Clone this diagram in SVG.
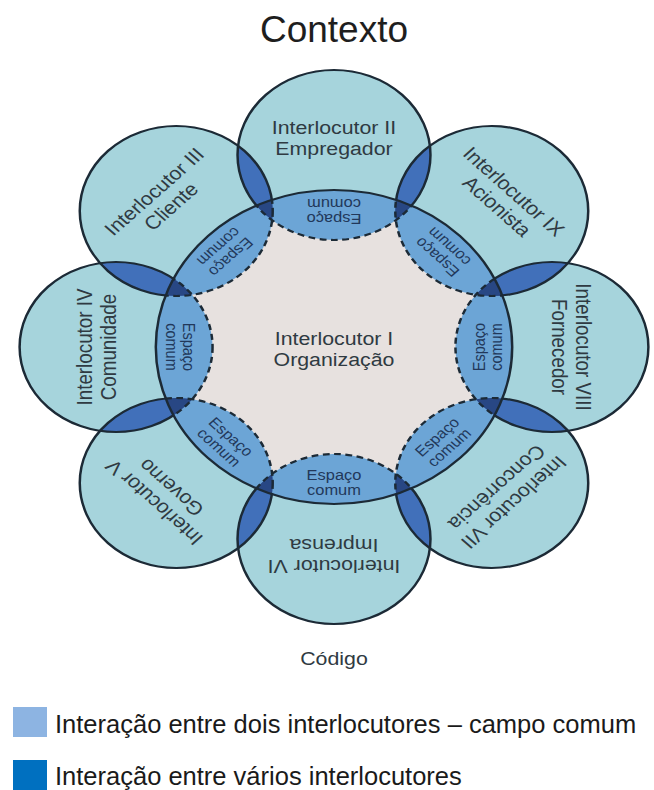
<svg xmlns="http://www.w3.org/2000/svg" xmlns:xlink="http://www.w3.org/1999/xlink" width="654" height="790" viewBox="0 0 654 790">
  <style>
    .outer { fill: #a6d4dc; }
    .core { fill: #e7e1df; }
    .common { fill: #6ca5d6; }
    .pair { fill: #4170ba; }
    .triple { fill: #284784; }
    .edge { fill: none; stroke: #1c2a36; stroke-width: 2.2; }
    .dash { stroke-dasharray: 6 4; }
    .lbl { font-family: "Liberation Sans", Arial, sans-serif; font-size: 18.8px; fill: #2f3a42; text-anchor: middle; }
    .esp { font-family: "Liberation Sans", Arial, sans-serif; font-size: 14.5px; fill: #22385a; text-anchor: middle; }
    .title { font-family: "Liberation Sans", Arial, sans-serif; font-size: 37px; fill: #1e1e1e; text-anchor: middle; }
    .legend { font-family: "Liberation Sans", Arial, sans-serif; font-size: 25.5px; fill: #1a1a1a; }
  </style>
  <defs>
    <!-- circle geometry, drawn in an unstretched frame centred on the organisation -->
    <circle id="c1" cx="0" cy="0" r="157"/>
    <circle id="c2" cx="0" cy="-192" r="85"/>
    <circle id="c9" cx="139" cy="-136" r="85"/>
    <circle id="c8" cx="192" cy="0" r="85"/>
    <circle id="c7" cx="139" cy="136" r="85"/>
    <circle id="c6" cx="0" cy="192" r="85"/>
    <circle id="c5" cx="-139" cy="136" r="85"/>
    <circle id="c4" cx="-192" cy="0" r="85"/>
    <circle id="c3" cx="-139" cy="-136" r="85"/>
    <clipPath id="k1"><circle cx="0" cy="0" r="157"/></clipPath>
    <clipPath id="kOut"><path clip-rule="evenodd" d="M-400 -400H400V400H-400Z M-157 0a157 157 0 1 0 314 0a157 157 0 1 0 -314 0Z"/></clipPath>
    <clipPath id="k2"><circle cx="0" cy="-192" r="85"/></clipPath>
    <clipPath id="k9"><circle cx="139" cy="-136" r="85"/></clipPath>
    <clipPath id="k8"><circle cx="192" cy="0" r="85"/></clipPath>
    <clipPath id="k7"><circle cx="139" cy="136" r="85"/></clipPath>
    <clipPath id="k6"><circle cx="0" cy="192" r="85"/></clipPath>
    <clipPath id="k5"><circle cx="-139" cy="136" r="85"/></clipPath>
    <clipPath id="k4"><circle cx="-192" cy="0" r="85"/></clipPath>
    <clipPath id="k3"><circle cx="-139" cy="-136" r="85"/></clipPath>
  </defs>

  <rect width="654" height="790" fill="#ffffff"/>
  <text class="title" x="334" y="42">Contexto</text>

  <g id="diagram" transform="translate(334,347) scale(1.135,1)">
    <!-- base fills -->
    <g id="fills">
      <use xlink:href="#c2" class="outer"/>
      <use xlink:href="#c9" class="outer"/>
      <use xlink:href="#c8" class="outer"/>
      <use xlink:href="#c7" class="outer"/>
      <use xlink:href="#c6" class="outer"/>
      <use xlink:href="#c5" class="outer"/>
      <use xlink:href="#c4" class="outer"/>
      <use xlink:href="#c3" class="outer"/>
      <use xlink:href="#c1" class="core"/>
    </g>

    <!-- common space: each interlocutor overlapping the organisation -->
    <g id="common-spaces" clip-path="url(#k1)">
      <use xlink:href="#c2" class="common"/>
      <use xlink:href="#c9" class="common"/>
      <use xlink:href="#c8" class="common"/>
      <use xlink:href="#c7" class="common"/>
      <use xlink:href="#c6" class="common"/>
      <use xlink:href="#c5" class="common"/>
      <use xlink:href="#c4" class="common"/>
      <use xlink:href="#c3" class="common"/>
    </g>

    <!-- neighbouring interlocutors overlapping each other -->
    <g id="multi-overlaps">
      <g clip-path="url(#k9)"><use xlink:href="#c2" class="pair"/><use xlink:href="#c2" class="triple" clip-path="url(#k1)"/></g>
      <g clip-path="url(#k8)"><use xlink:href="#c9" class="pair"/><use xlink:href="#c9" class="triple" clip-path="url(#k1)"/></g>
      <g clip-path="url(#k7)"><use xlink:href="#c8" class="pair"/><use xlink:href="#c8" class="triple" clip-path="url(#k1)"/></g>
      <g clip-path="url(#k6)"><use xlink:href="#c7" class="pair"/><use xlink:href="#c7" class="triple" clip-path="url(#k1)"/></g>
      <g clip-path="url(#k5)"><use xlink:href="#c6" class="pair"/><use xlink:href="#c6" class="triple" clip-path="url(#k1)"/></g>
      <g clip-path="url(#k4)"><use xlink:href="#c5" class="pair"/><use xlink:href="#c5" class="triple" clip-path="url(#k1)"/></g>
      <g clip-path="url(#k3)"><use xlink:href="#c4" class="pair"/><use xlink:href="#c4" class="triple" clip-path="url(#k1)"/></g>
      <g clip-path="url(#k2)"><use xlink:href="#c3" class="pair"/><use xlink:href="#c3" class="triple" clip-path="url(#k1)"/></g>
    </g>

    <!-- outlines: solid outside the organisation, dashed inside it -->
    <g id="outlines">
      <g clip-path="url(#kOut)">
        <use xlink:href="#c2" class="edge"/>
        <use xlink:href="#c9" class="edge"/>
        <use xlink:href="#c8" class="edge"/>
        <use xlink:href="#c7" class="edge"/>
        <use xlink:href="#c6" class="edge"/>
        <use xlink:href="#c5" class="edge"/>
        <use xlink:href="#c4" class="edge"/>
        <use xlink:href="#c3" class="edge"/>
      </g>
      <g clip-path="url(#k1)">
        <use xlink:href="#c2" class="edge dash"/>
        <use xlink:href="#c9" class="edge dash"/>
        <use xlink:href="#c8" class="edge dash"/>
        <use xlink:href="#c7" class="edge dash"/>
        <use xlink:href="#c6" class="edge dash"/>
        <use xlink:href="#c5" class="edge dash"/>
        <use xlink:href="#c4" class="edge dash"/>
        <use xlink:href="#c3" class="edge dash"/>
      </g>
      <use xlink:href="#c1" class="edge"/>
    </g>

    <!-- interlocutor labels -->
    <g id="node-i">
      <text class="lbl" x="0" y="-2">Interlocutor I</text>
      <text class="lbl" x="0" y="19">Organização</text>
    </g>
    <g id="node-ii" transform="translate(0,-192)">
      <text class="lbl" x="0" y="-21">Interlocutor II</text>
      <text class="lbl" x="0" y="0">Empregador</text>
    </g>
    <g id="node-iii" transform="translate(-139,-136) rotate(-45)">
      <text class="lbl" x="0" y="-21">Interlocutor III</text>
      <text class="lbl" x="0" y="0">Cliente</text>
    </g>
    <g id="node-iv" transform="translate(-192,0) rotate(-90)">
      <text class="lbl" x="0" y="-21">Interlocutor IV</text>
      <text class="lbl" x="0" y="0">Comunidade</text>
    </g>
    <g id="node-v" transform="translate(-139,136) rotate(-135)">
      <text class="lbl" x="0" y="-21">Interlocutor V</text>
      <text class="lbl" x="0" y="0">Governo</text>
    </g>
    <g id="node-vi" transform="translate(0,192) rotate(180)">
      <text class="lbl" x="0" y="-21">Interlocutor VI</text>
      <text class="lbl" x="0" y="0">Imprensa</text>
    </g>
    <g id="node-vii" transform="translate(139,136) rotate(135)">
      <text class="lbl" x="0" y="-21">Interlocutor VII</text>
      <text class="lbl" x="0" y="0">Concorrência</text>
    </g>
    <g id="node-viii" transform="translate(192,0) rotate(90)">
      <text class="lbl" x="0" y="-21">Interlocutor VIII</text>
      <text class="lbl" x="0" y="0">Fornecedor</text>
    </g>
    <g id="node-ix" transform="translate(139,-136) rotate(45)">
      <text class="lbl" x="0" y="-21">Interlocutor IX</text>
      <text class="lbl" x="0" y="0">Acionista</text>
    </g>

    <!-- common-space labels -->
    <g id="common-labels">
      <g transform="translate(0,-134) rotate(180)"><text class="esp" y="-1">Espaço</text><text class="esp" y="14">comum</text></g>
      <g transform="translate(95,-94) rotate(-135)"><text class="esp" y="-1">Espaço</text><text class="esp" y="14">comum</text></g>
      <g transform="translate(134,0) rotate(-90)"><text class="esp" y="-1">Espaço</text><text class="esp" y="14">comum</text></g>
      <g transform="translate(95,94) rotate(-45)"><text class="esp" y="-1">Espaço</text><text class="esp" y="14">comum</text></g>
      <g transform="translate(0,134)"><text class="esp" y="-1">Espaço</text><text class="esp" y="14">comum</text></g>
      <g transform="translate(-95,94) rotate(45)"><text class="esp" y="-1">Espaço</text><text class="esp" y="14">comum</text></g>
      <g transform="translate(-134,0) rotate(90)"><text class="esp" y="-1">Espaço</text><text class="esp" y="14">comum</text></g>
      <g transform="translate(-95,-94) rotate(135)"><text class="esp" y="-1">Espaço</text><text class="esp" y="14">comum</text></g>
    </g>

    <text class="lbl" x="0" y="318">Código</text>
  </g>

  <!-- legend -->
  <g id="legend">
    <rect x="13" y="707" width="34" height="30" fill="#8db4e2"/>
    <text class="legend" x="55" y="733">Interação entre dois interlocutores – campo comum</text>
    <rect x="13" y="760" width="34" height="30" fill="#0070c0"/>
    <text class="legend" x="55" y="785">Interação entre vários interlocutores</text>
  </g>
</svg>
